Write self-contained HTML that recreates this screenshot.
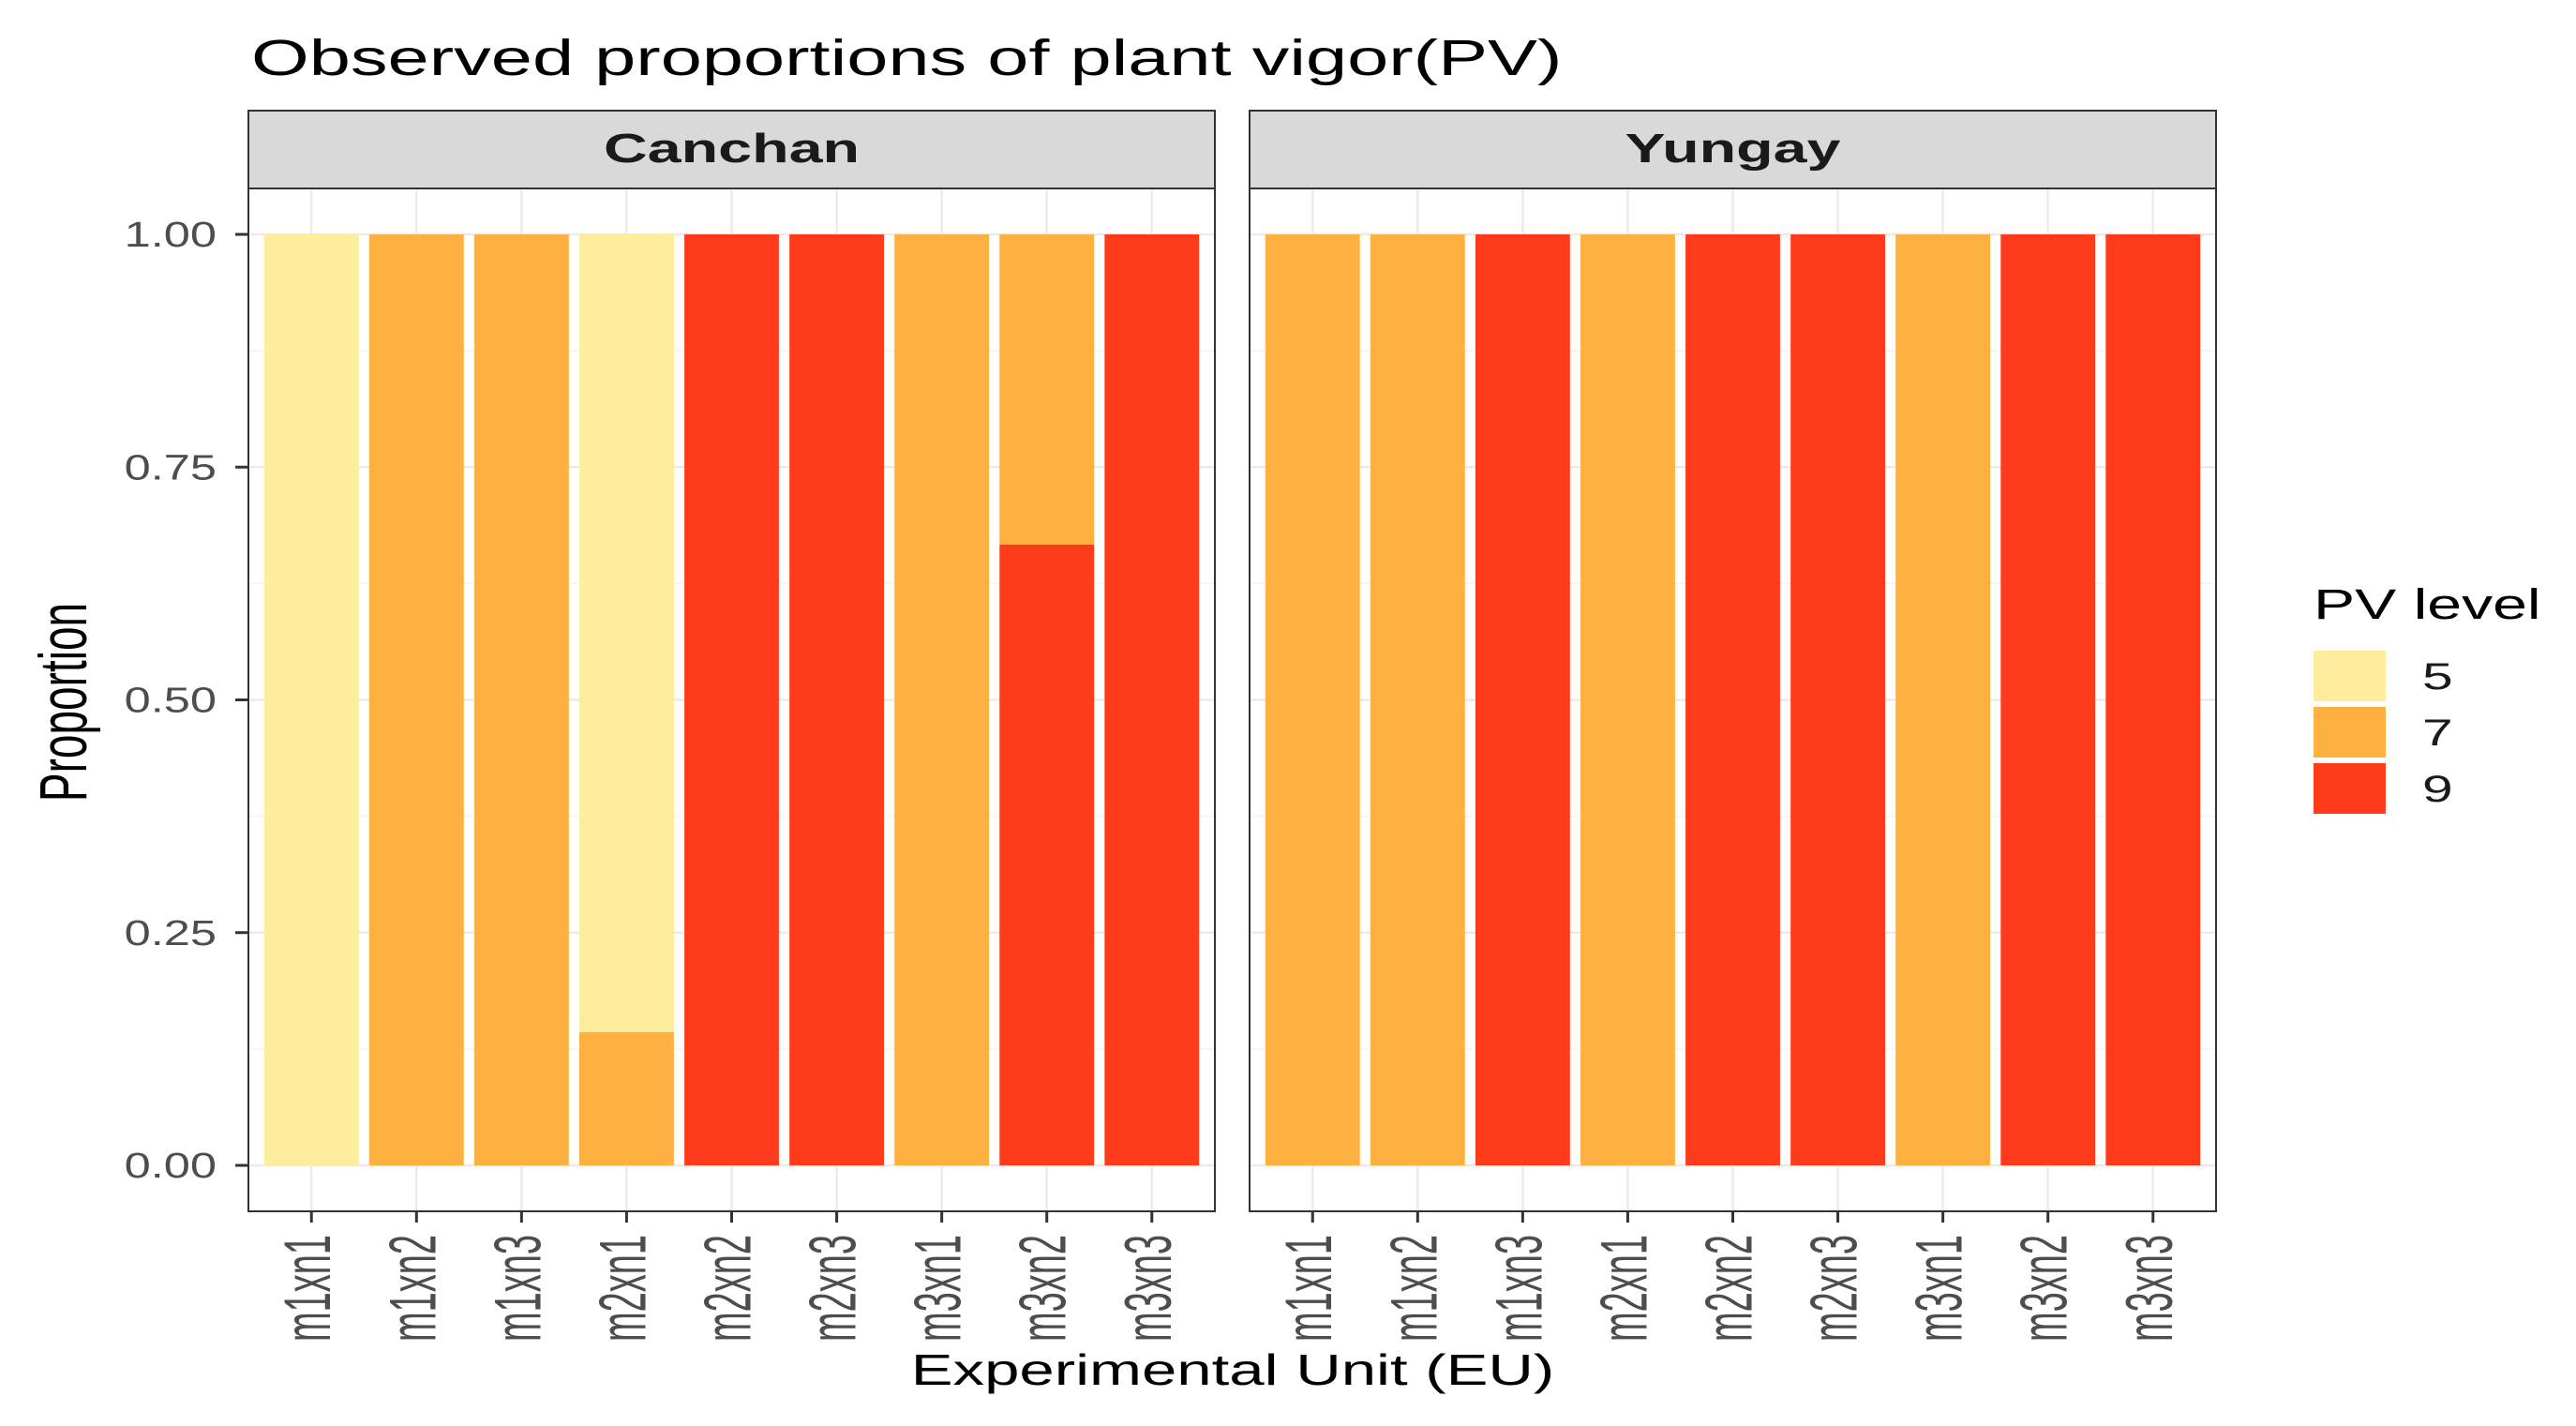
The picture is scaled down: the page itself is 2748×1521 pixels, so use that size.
<!DOCTYPE html>
<html><head><meta charset="utf-8">
<style>
html,body{margin:0;padding:0;background:#fff;}
svg{display:block;font-family:"Liberation Sans",Arial,sans-serif;}
</style></head>
<body>
<svg id="chart" xmlns="http://www.w3.org/2000/svg" width="2748" height="1521" viewBox="0 0 2748 1521">
<rect width="2748" height="1521" fill="#fff"/>
<text transform="translate(268,80) scale(1.47,1)" font-size="54" fill="#000">Observed proportions of plant vigor(PV)</text>
<text transform="translate(1315,1477) scale(1.46,1)" font-size="46" text-anchor="middle" fill="#000">Experimental Unit (EU)</text>
<text transform="translate(92,749) scale(1.55,1) rotate(-90)" font-size="46" text-anchor="middle" fill="#000">Proportion</text>
<g id="plot"></g>
<g>
<text transform="translate(2468,660) scale(1.47,1)" font-size="45" fill="#000">PV level</text>
<g id="legend"></g>
</g>
</svg>
<script>
const categories = ["m1xn1","m1xn2","m1xn3","m2xn1","m2xn2","m2xn3","m3xn1","m3xn2","m3xn3"];
const panels = ["Canchan","Yungay"];
const levels = ["5","7","9"];
const levelColors = ["#FFEC9C","#FEB141","#FF3B1C"];
const canchan5 = [1,0,0,0.857,0,0,0,0,0];
const canchan7 = [0,1,1,0.143,0,0,1,0.333,0];
const canchan9 = [0,0,0,0,1,1,0,0.667,1];
const yungay5 = [0,0,0,0,0,0,0,0,0];
const yungay7 = [1,1,0,1,0,0,1,0,0];
const yungay9 = [0,0,1,0,1,1,0,1,1];
const yTicks = [0,0.25,0.5,0.75,1];
const yTickLabels = ["0.00","0.25","0.50","0.75","1.00"];

(function(){
const NS="http://www.w3.org/2000/svg";
const SX=1.47;
function mk(tag, attrs, parent){const e=document.createElementNS(NS,tag);for(const k in attrs)e.setAttribute(k,attrs[k]);parent.appendChild(e);return e;}
const plot=document.getElementById('plot');
const panelX=[265,1333], panelW=1031, pTop=201, pBottom=1292;
const y0=1243, y1=250;
function yScale(v){return y0+(y1-y0)*v;}
const panelData=[[canchan5,canchan7,canchan9],[yungay5,yungay7,yungay9]];
panels.forEach((p,pi)=>{
  const L=panelX[pi];
  const unit=panelW/(categories.length+0.2);
  function xScale(i){return L+unit*(0.6+i);}
  const g=mk('g',{},plot);
  
  
  const strip=mk('rect',{x:L,y:118,width:panelW,height:83,fill:"#D9D9D9",stroke:"#333",'stroke-width':2},g);
  
  
  const st=mk('text',{transform:`translate(${L+panelW/2},173) scale(${SX},1)`,'font-size':44,'font-weight':'bold','text-anchor':'middle',fill:'#1a1a1a'},g);
  st.textContent=p;
  
  
  for(let t=0;t<yTicks.length;t++){
    mk('line',{x1:L,x2:L+panelW,y1:yScale(yTicks[t]),y2:yScale(yTicks[t]),stroke:'#EBEBEB','stroke-width':2.5},g);
    if(t<yTicks.length-1){const m=(yTicks[t]+yTicks[t+1])/2;mk('line',{x1:L,x2:L+panelW,y1:yScale(m),y2:yScale(m),stroke:'#F2F2F2','stroke-width':1.5},g);}
  }
  categories.forEach((c,i)=>{mk('line',{x1:xScale(i),x2:xScale(i),y1:pTop,y2:pBottom,stroke:'#EBEBEB','stroke-width':2.5},g);});
  const d=panelData[pi];
  categories.forEach((c,i)=>{
    let cum=0;
    for(let li=levels.length-1;li>=0;li--){
      const v=d[li][i]; if(v<=0) continue;
      const ya=yScale(cum), yb=yScale(cum+v);
      const r=mk('rect',{x:xScale(i)-unit*0.45,y:yb,width:unit*0.9,height:ya-yb,fill:levelColors[li]},g);
      
      
      cum+=v;
    }
    mk('line',{x1:xScale(i),x2:xScale(i),y1:pBottom,y2:pBottom+12,stroke:'#333','stroke-width':3},g);
    const tl=mk('text',{transform:`translate(${xScale(i)+20},${pBottom+25}) scale(1.85,1) rotate(-90)`,'font-size':38,'text-anchor':'end',fill:'#4D4D4D'},g);
    tl.textContent=c;
    
    
  });
  mk('rect',{x:L,y:pTop,width:panelW,height:pBottom-pTop,fill:'none',stroke:'#333','stroke-width':2},g);
});
yTicks.forEach((t,i)=>{
  mk('line',{x1:251,x2:265,y1:yScale(t),y2:yScale(t),stroke:'#333','stroke-width':3},plot);
  const tx=mk('text',{transform:`translate(231,${yScale(t)+13}) scale(1.33,1)`,'font-size':38,'text-anchor':'end',fill:'#4D4D4D'},plot);
  tx.textContent=yTickLabels[i];
  
  
});
const lg=document.getElementById('legend');
levels.forEach((lv,i)=>{
  const y=694+i*60;
  const r=mk('rect',{x:2468,y:y,width:77,height:54,fill:levelColors[i]},lg);
  
  
  const t=mk('text',{transform:`translate(2584,${y+41}) scale(${SX},1)`,'font-size':40,fill:'#1a1a1a'},lg);
  t.textContent=lv;
  
  
});
})();
</script>
</body></html>
